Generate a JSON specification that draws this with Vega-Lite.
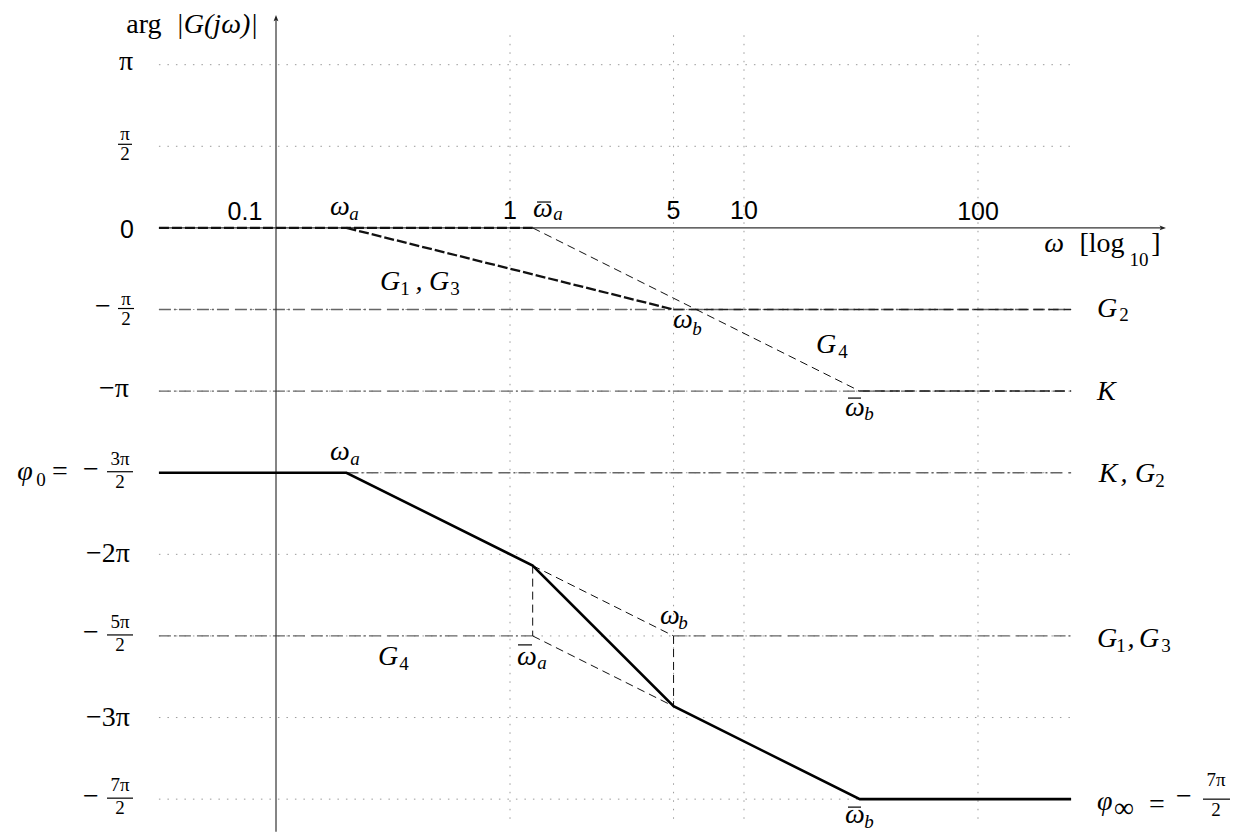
{
  "$schema": "https://vega.github.io/schema/vega-lite/v6.json",
  "width": 1240,
  "height": 835,
  "padding": 0,
  "autosize": {"type": "fit", "contains": "padding"},
  "background": "white",
  "config": {"view": {"stroke": null}},
  "datasets": {
    "paths": [
      {"seg": "h1", "kind": "grid", "ord": 0, "w": 0.0316, "phi": 1},
      {"seg": "h1", "kind": "grid", "ord": 1, "w": 250, "phi": 1},
      {"seg": "h2", "kind": "grid", "ord": 0, "w": 0.0316, "phi": 0.5},
      {"seg": "h2", "kind": "grid", "ord": 1, "w": 250, "phi": 0.5},
      {"seg": "h3", "kind": "grid", "ord": 0, "w": 0.0316, "phi": -0.5},
      {"seg": "h3", "kind": "grid", "ord": 1, "w": 250, "phi": -0.5},
      {"seg": "h4", "kind": "grid", "ord": 0, "w": 0.0316, "phi": -1},
      {"seg": "h4", "kind": "grid", "ord": 1, "w": 250, "phi": -1},
      {"seg": "h5", "kind": "grid", "ord": 0, "w": 0.0316, "phi": -1.5},
      {"seg": "h5", "kind": "grid", "ord": 1, "w": 250, "phi": -1.5},
      {"seg": "h6", "kind": "grid", "ord": 0, "w": 0.0316, "phi": -2},
      {"seg": "h6", "kind": "grid", "ord": 1, "w": 250, "phi": -2},
      {"seg": "h7", "kind": "grid", "ord": 0, "w": 0.0316, "phi": -2.5},
      {"seg": "h7", "kind": "grid", "ord": 1, "w": 250, "phi": -2.5},
      {"seg": "h8", "kind": "grid", "ord": 0, "w": 0.0316, "phi": -3},
      {"seg": "h8", "kind": "grid", "ord": 1, "w": 250, "phi": -3},
      {"seg": "h9", "kind": "grid", "ord": 0, "w": 0.0316, "phi": -3.5},
      {"seg": "h9", "kind": "grid", "ord": 1, "w": 250, "phi": -3.5},
      {"seg": "v1", "kind": "grid", "ord": 0, "w": 1, "phi": 1.18},
      {"seg": "v1", "kind": "grid", "ord": 1, "w": 1, "phi": -3.65},
      {"seg": "v5", "kind": "grid", "ord": 0, "w": 5, "phi": 1.18},
      {"seg": "v5", "kind": "grid", "ord": 1, "w": 5, "phi": -3.65},
      {"seg": "v10", "kind": "grid", "ord": 0, "w": 10, "phi": 1.18},
      {"seg": "v10", "kind": "grid", "ord": 1, "w": 10, "phi": -3.65},
      {"seg": "v100", "kind": "grid", "ord": 0, "w": 100, "phi": 1.18},
      {"seg": "v100", "kind": "grid", "ord": 1, "w": 100, "phi": -3.65},

      {"seg": "d1", "kind": "dashdot", "ord": 0, "w": 0.0316, "phi": -0.5},
      {"seg": "d1", "kind": "dashdot", "ord": 1, "w": 250, "phi": -0.5},
      {"seg": "d2", "kind": "dashdot", "ord": 0, "w": 0.0316, "phi": -1},
      {"seg": "d2", "kind": "dashdot", "ord": 1, "w": 250, "phi": -1},
      {"seg": "d3", "kind": "dashdot", "ord": 0, "w": 0.2, "phi": -1.5},
      {"seg": "d3", "kind": "dashdot", "ord": 1, "w": 250, "phi": -1.5},
      {"seg": "d4", "kind": "dashdot", "ord": 0, "w": 0.0316, "phi": -2.5},
      {"seg": "d4", "kind": "dashdot", "ord": 1, "w": 1.25, "phi": -2.5},
      {"seg": "d5", "kind": "dashdot", "ord": 0, "w": 5, "phi": -2.5},
      {"seg": "d5", "kind": "dashdot", "ord": 1, "w": 250, "phi": -2.5},

      {"seg": "ax", "kind": "axis", "ord": 0, "w": 0.0316, "phi": 0},
      {"seg": "ax", "kind": "axis", "ord": 1, "w": 611.4, "phi": 0},
      {"seg": "ay", "kind": "axis", "ord": 0, "w": 0.1, "phi": -3.7},
      {"seg": "ay", "kind": "axis", "ord": 1, "w": 0.1, "phi": 1.2805},

      {"seg": "m1", "kind": "mid", "ord": 0, "w": 5, "phi": -0.5},
      {"seg": "m1", "kind": "mid", "ord": 1, "w": 250, "phi": -0.5},
      {"seg": "m2", "kind": "mid", "ord": 0, "w": 31.25, "phi": -1},
      {"seg": "m2", "kind": "mid", "ord": 1, "w": 250, "phi": -1},

      {"seg": "n1", "kind": "thin", "ord": 0, "w": 1.25, "phi": 0},
      {"seg": "n1", "kind": "thin", "ord": 1, "w": 31.25, "phi": -1},
      {"seg": "n2", "kind": "thin", "ord": 0, "w": 1.25, "phi": -2.069},
      {"seg": "n2", "kind": "thin", "ord": 1, "w": 5, "phi": -2.5},
      {"seg": "n3", "kind": "thin", "ord": 0, "w": 1.25, "phi": -2.069},
      {"seg": "n3", "kind": "thin", "ord": 1, "w": 1.25, "phi": -2.5},
      {"seg": "n4", "kind": "thin", "ord": 0, "w": 1.25, "phi": -2.5},
      {"seg": "n4", "kind": "thin", "ord": 1, "w": 5, "phi": -2.931},
      {"seg": "n5", "kind": "thin", "ord": 0, "w": 5, "phi": -2.5},
      {"seg": "n5", "kind": "thin", "ord": 1, "w": 5, "phi": -2.931},

      {"seg": "t0", "kind": "thick", "ord": 0, "w": 0.0316, "phi": 0},
      {"seg": "t0", "kind": "thick", "ord": 1, "w": 1.25, "phi": 0},
      {"seg": "t1", "kind": "thick", "ord": 0, "w": 0.2, "phi": 0},
      {"seg": "t1", "kind": "thick", "ord": 1, "w": 5, "phi": -0.5},

      {"seg": "s", "kind": "solid", "ord": 0, "w": 0.0316, "phi": -1.5},
      {"seg": "s", "kind": "solid", "ord": 1, "w": 0.2, "phi": -1.5},
      {"seg": "s", "kind": "solid", "ord": 2, "w": 1.25, "phi": -2.069},
      {"seg": "s", "kind": "solid", "ord": 3, "w": 5, "phi": -2.931},
      {"seg": "s", "kind": "solid", "ord": 4, "w": 31.25, "phi": -3.5},
      {"seg": "s", "kind": "solid", "ord": 5, "w": 250, "phi": -3.5},

      {"seg": "b1", "kind": "bar", "ord": 0, "w": 0.021127, "phi": 0.5122},
      {"seg": "b1", "kind": "bar", "ord": 1, "w": 0.024246, "phi": 0.5122},
      {"seg": "b2", "kind": "bar", "ord": 0, "w": 0.021127, "phi": -0.4939},
      {"seg": "b2", "kind": "bar", "ord": 1, "w": 0.024726, "phi": -0.4939},
      {"seg": "b3", "kind": "bar", "ord": 0, "w": 0.018958, "phi": -1.4939},
      {"seg": "b3", "kind": "bar", "ord": 1, "w": 0.024485, "phi": -1.4939},
      {"seg": "b4", "kind": "bar", "ord": 0, "w": 0.018958, "phi": -2.4939},
      {"seg": "b4", "kind": "bar", "ord": 1, "w": 0.024485, "phi": -2.4939},
      {"seg": "b5", "kind": "bar", "ord": 0, "w": 0.018958, "phi": -3.4939},
      {"seg": "b5", "kind": "bar", "ord": 1, "w": 0.024485, "phi": -3.4939},
      {"seg": "b6", "kind": "bar", "ord": 0, "w": 915.3, "phi": -3.5},
      {"seg": "b6", "kind": "bar", "ord": 1, "w": 1193.7, "phi": -3.5},
      {"seg": "o1", "kind": "bar", "ord": 0, "w": 1.3044, "phi": 0.15854},
      {"seg": "o1", "kind": "bar", "ord": 1, "w": 1.4968, "phi": 0.15854},
      {"seg": "o2", "kind": "bar", "ord": 0, "w": 27.826, "phi": -1.04268},
      {"seg": "o2", "kind": "bar", "ord": 1, "w": 31.623, "phi": -1.04268},
      {"seg": "o3", "kind": "bar", "ord": 0, "w": 1.082, "phi": -2.55488},
      {"seg": "o3", "kind": "bar", "ord": 1, "w": 1.2417, "phi": -2.55488},
      {"seg": "o4", "kind": "bar", "ord": 0, "w": 27.826, "phi": -3.54878},
      {"seg": "o4", "kind": "bar", "ord": 1, "w": 31.623, "phi": -3.54878}
    ],
    "arrows": [
      {"dir": "up", "w": 0.1, "phi": 1.2805},
      {"dir": "right", "w": 611.4, "phi": 0}
    ],
    "labels": [
      {"g": "roman", "t": "arg", "w": 0.02728, "phi": 1.19512},
      {"g": "roman", "t": "π", "w": 0.02286, "phi": 0.96951},
      {"g": "roman", "t": "−π", "w": 0.02031, "phi": -1.03659},
      {"g": "roman", "t": "−2π", "w": 0.019145, "phi": -2.04878},
      {"g": "roman", "t": "−3π", "w": 0.019145, "phi": -3.04878},
      {"g": "roman", "t": "−", "w": 0.018226, "phi": -0.53659},
      {"g": "roman", "t": "−", "w": 0.016196, "phi": -1.53354},
      {"g": "roman", "t": "−", "w": 0.016196, "phi": -2.53354},
      {"g": "roman", "t": "−", "w": 0.016196, "phi": -3.53354},
      {"g": "roman", "t": "=", "w": 0.011937, "phi": -1.54268},
      {"g": "roman", "t": "[log", "w": 338.8, "phi": -0.14634},
      {"g": "roman", "t": "]", "w": 576.4, "phi": -0.14634},
      {"g": "roman", "t": "=", "w": 582.1, "phi": -3.58537},
      {"g": "roman", "t": "−", "w": 759.2, "phi": -3.53659},
      {"g": "roman", "t": "∞", "w": 420.6, "phi": -3.60976},

      {"g": "math", "t": "|G(jω)|", "w": 0.055963, "phi": 1.19512},
      {"g": "math", "t": "ω", "w": 0.18772, "phi": 0.07927},
      {"g": "math", "t": "ω", "w": 1.3836, "phi": 0.06707},
      {"g": "math", "t": "ω", "w": 5.4866, "phi": -0.61585},
      {"g": "math", "t": "ω", "w": 29.81, "phi": -1.15244},
      {"g": "math", "t": "G", "w": 0.30702, "phi": -0.37805},
      {"g": "math", "t": ",", "w": 0.40842, "phi": -0.37805},
      {"g": "math", "t": "G", "w": 0.49726, "phi": -0.37805},
      {"g": "math", "t": "G", "w": 22.41, "phi": -0.76829},
      {"g": "math", "t": "ω", "w": 211.3, "phi": -0.14634},
      {"g": "math", "t": "ω", "w": 0.18772, "phi": -1.42073},
      {"g": "math", "t": "G", "w": 0.30106, "phi": -2.67683},
      {"g": "math", "t": "ω", "w": 4.8279, "phi": -2.42683},
      {"g": "math", "t": "ω", "w": 1.1821, "phi": -2.67683},
      {"g": "math", "t": "ω", "w": 29.81, "phi": -3.64634},
      {"g": "math", "t": "φ", "w": 0.0084596, "phi": -1.54268},
      {"g": "math", "t": "G", "w": 355.89, "phi": -0.54878},
      {"g": "math", "t": "K", "w": 359.4, "phi": -1.55488},
      {"g": "math", "t": ",", "w": 420.6, "phi": -1.55488},
      {"g": "math", "t": "G", "w": 517.2, "phi": -1.55488},
      {"g": "math", "t": "G", "w": 355.89, "phi": -2.56707},
      {"g": "math", "t": ",", "w": 450.7, "phi": -2.56707},
      {"g": "math", "t": "G", "w": 537.98, "phi": -2.56707},

      {"g": "mathL", "t": "K", "w": 322.5, "phi": -1.05488},
      {"g": "mathL", "t": "φ", "w": 322.5, "phi": -3.56707},

      {"g": "sub", "t": "a", "w": 0.21544, "phi": 0.04878},
      {"g": "sub", "t": "a", "w": 1.6037, "phi": 0.04878},
      {"g": "sub", "t": "b", "w": 6.2973, "phi": -0.65854},
      {"g": "sub", "t": "b", "w": 34.22, "phi": -1.17683},
      {"g": "sub", "t": "a", "w": 0.21757, "phi": -1.45122},
      {"g": "sub", "t": "b", "w": 5.4866, "phi": -2.45732},
      {"g": "sub", "t": "a", "w": 1.37, "phi": -2.70122},
      {"g": "sub", "t": "b", "w": 34.22, "phi": -3.67683},

      {"g": "subr", "t": "1", "w": 0.35589, "phi": -0.40854},
      {"g": "subr", "t": "3", "w": 0.58209, "phi": -0.40854},
      {"g": "subr", "t": "4", "w": 26.49, "phi": -0.79878},
      {"g": "subr", "t": "4", "w": 0.35241, "phi": -2.70732},
      {"g": "subr", "t": "2", "w": 420.6, "phi": -0.57317},
      {"g": "subr", "t": "2", "w": 599.5, "phi": -1.58537},
      {"g": "subr", "t": "1", "w": 408.42, "phi": -2.59756},
      {"g": "subr", "t": "3", "w": 635.9, "phi": -2.59756},
      {"g": "subr", "t": "10", "w": 487.5, "phi": -0.23171},
      {"g": "subr", "t": "0", "w": 0.0099022, "phi": -1.57927},

      {"g": "frac", "t": "π", "w": 0.02263, "phi": 0.53659},
      {"g": "frac", "t": "2", "w": 0.02263, "phi": 0.41463},
      {"g": "frac", "t": "π", "w": 0.02286, "phi": -0.46951},
      {"g": "frac", "t": "2", "w": 0.02286, "phi": -0.59756},
      {"g": "frac", "t": "3π", "w": 0.021544, "phi": -1.45122},
      {"g": "frac", "t": "2", "w": 0.021544, "phi": -1.59146},
      {"g": "frac", "t": "5π", "w": 0.021544, "phi": -2.45122},
      {"g": "frac", "t": "2", "w": 0.021544, "phi": -2.59146},
      {"g": "frac", "t": "7π", "w": 0.021544, "phi": -3.45122},
      {"g": "frac", "t": "2", "w": 0.021544, "phi": -3.59146},
      {"g": "frac", "t": "7π", "w": 1040.1, "phi": -3.42073},
      {"g": "frac", "t": "2", "w": 1040.1, "phi": -3.60366},

      {"g": "sans", "t": "0.1", "w": 0.073706, "phi": 0.04878},
      {"g": "sans", "t": "1", "w": 1, "phi": 0.05488},
      {"g": "sans", "t": "5", "w": 5, "phi": 0.05488},
      {"g": "sans", "t": "10", "w": 10, "phi": 0.05488},
      {"g": "sans", "t": "100", "w": 100, "phi": 0.04878},
      {"g": "sans", "t": "0", "w": 0.023082, "phi": -0.06098}
    ]
  },
  "encoding": {
    "x": {"field": "w", "type": "quantitative", "axis": null,
          "scale": {"type": "log", "domain": [0.0066143, 1317.3], "nice": false}},
    "y": {"field": "phi", "type": "quantitative", "axis": null,
          "scale": {"domain": [-3.69512, 1.39634], "nice": false, "zero": false}}
  },
  "layer": [
    {"data": {"name": "paths"}, "transform": [{"filter": "datum.kind == 'grid'"}],
     "mark": {"type": "line", "stroke": "#9a9a9a", "strokeWidth": 1, "strokeDash": [1.5, 7], "clip": false},
     "encoding": {"detail": {"field": "seg"}, "order": {"field": "ord"}}},
    {"data": {"name": "paths"}, "transform": [{"filter": "datum.kind == 'dashdot'"}],
     "mark": {"type": "line", "stroke": "#666666", "strokeWidth": 1.3, "strokeDash": [12, 3, 2, 3, 12, 6], "clip": false},
     "encoding": {"detail": {"field": "seg"}, "order": {"field": "ord"}}},
    {"data": {"name": "paths"}, "transform": [{"filter": "datum.kind == 'axis'"}],
     "mark": {"type": "line", "stroke": "#333333", "strokeWidth": 1.2, "clip": false},
     "encoding": {"detail": {"field": "seg"}, "order": {"field": "ord"}}},
    {"data": {"name": "paths"}, "transform": [{"filter": "datum.kind == 'mid'"}],
     "mark": {"type": "line", "stroke": "#222222", "strokeWidth": 1.5, "strokeDash": [10, 5], "clip": false},
     "encoding": {"detail": {"field": "seg"}, "order": {"field": "ord"}}},
    {"data": {"name": "paths"}, "transform": [{"filter": "datum.kind == 'thin'"}],
     "mark": {"type": "line", "stroke": "#111111", "strokeWidth": 1, "strokeDash": [8, 5], "clip": false},
     "encoding": {"detail": {"field": "seg"}, "order": {"field": "ord"}}},
    {"data": {"name": "paths"}, "transform": [{"filter": "datum.kind == 'thick'"}],
     "mark": {"type": "line", "stroke": "#111111", "strokeWidth": 2.3, "strokeDash": [10, 3], "clip": false},
     "encoding": {"detail": {"field": "seg"}, "order": {"field": "ord"}}},
    {"data": {"name": "paths"}, "transform": [{"filter": "datum.kind == 'solid'"}],
     "mark": {"type": "line", "stroke": "#000000", "strokeWidth": 2.6, "strokeJoin": "miter", "clip": false},
     "encoding": {"detail": {"field": "seg"}, "order": {"field": "ord"}}},
    {"data": {"name": "paths"}, "transform": [{"filter": "datum.kind == 'bar'"}],
     "mark": {"type": "line", "stroke": "#000000", "strokeWidth": 1.2, "clip": false},
     "encoding": {"detail": {"field": "seg"}, "order": {"field": "ord"}}},
    {"data": {"name": "arrows"}, "transform": [{"filter": "datum.dir == 'up'"}],
     "mark": {"type": "point", "shape": "M0,-1L0.6,0.6L0,0.25L-0.6,0.6Z", "size": 64, "filled": true, "fill": "#222222", "strokeWidth": 0, "opacity": 1, "clip": false}},
    {"data": {"name": "arrows"}, "transform": [{"filter": "datum.dir == 'right'"}],
     "mark": {"type": "point", "shape": "M1,0L-0.6,0.6L-0.25,0L-0.6,-0.6Z", "size": 64, "filled": true, "fill": "#222222", "strokeWidth": 0, "opacity": 1, "clip": false}},
    {"data": {"name": "labels"}, "transform": [{"filter": "datum.g == 'roman'"}],
     "mark": {"type": "text", "font": "Liberation Serif", "fontSize": 28, "align": "center", "baseline": "alphabetic", "color": "#000000", "clip": false},
     "encoding": {"text": {"field": "t", "type": "nominal"}}},
    {"data": {"name": "labels"}, "transform": [{"filter": "datum.g == 'math'"}],
     "mark": {"type": "text", "font": "Liberation Serif", "fontSize": 28, "fontStyle": "italic", "align": "center", "baseline": "alphabetic", "color": "#000000", "clip": false},
     "encoding": {"text": {"field": "t", "type": "nominal"}}},
    {"data": {"name": "labels"}, "transform": [{"filter": "datum.g == 'mathL'"}],
     "mark": {"type": "text", "font": "Liberation Serif", "fontSize": 28, "fontStyle": "italic", "align": "left", "baseline": "alphabetic", "color": "#000000", "clip": false},
     "encoding": {"text": {"field": "t", "type": "nominal"}}},
    {"data": {"name": "labels"}, "transform": [{"filter": "datum.g == 'sub'"}],
     "mark": {"type": "text", "font": "Liberation Serif", "fontSize": 19, "fontStyle": "italic", "align": "center", "baseline": "alphabetic", "color": "#000000", "clip": false},
     "encoding": {"text": {"field": "t", "type": "nominal"}}},
    {"data": {"name": "labels"}, "transform": [{"filter": "datum.g == 'subr'"}],
     "mark": {"type": "text", "font": "Liberation Serif", "fontSize": 19, "align": "center", "baseline": "alphabetic", "color": "#000000", "clip": false},
     "encoding": {"text": {"field": "t", "type": "nominal"}}},
    {"data": {"name": "labels"}, "transform": [{"filter": "datum.g == 'frac'"}],
     "mark": {"type": "text", "font": "Liberation Serif", "fontSize": 19, "align": "center", "baseline": "alphabetic", "color": "#000000", "clip": false},
     "encoding": {"text": {"field": "t", "type": "nominal"}}},
    {"data": {"name": "labels"}, "transform": [{"filter": "datum.g == 'sans'"}],
     "mark": {"type": "text", "font": "Liberation Sans", "fontSize": 25, "align": "center", "baseline": "alphabetic", "color": "#000000", "clip": false},
     "encoding": {"text": {"field": "t", "type": "nominal"}}}
  ]
}
